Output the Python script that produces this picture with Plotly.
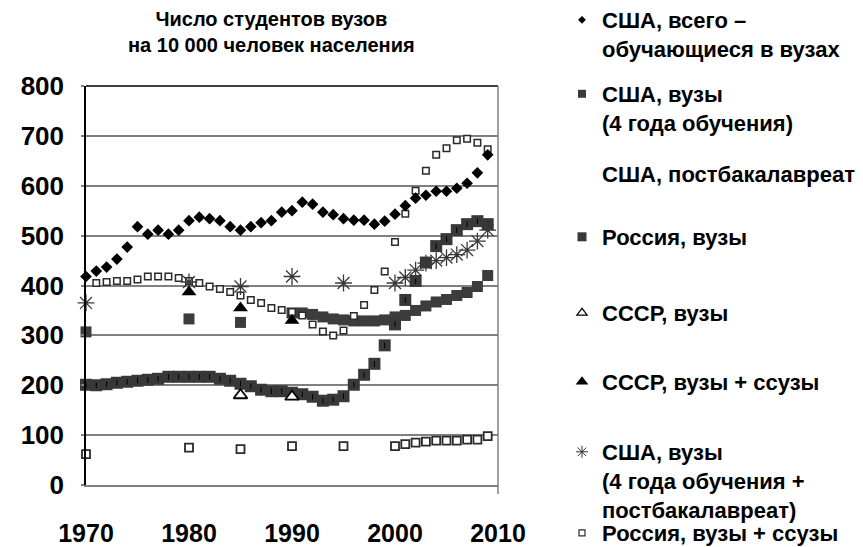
import plotly.graph_objects as go

# ---------------- data ----------------
years_all = list(range(1970, 2010))
usa_total = [418, 429, 437, 453, 477, 518, 503, 511, 503, 511,
             530, 537, 534, 530, 518, 511, 518, 526, 530, 547,
             550, 567, 563, 547, 542, 534, 531, 531, 523, 529,
             543, 560, 575, 581, 589, 589, 595, 605, 626, 662]

usa_4yr_years = [1970, 1980, 1985] + list(range(1990, 2010))
usa_4yr = [307, 333, 326,
           345, 345, 342, 337, 333, 331, 329, 329, 329, 331,
           337, 340, 350, 359, 367, 372, 380, 386, 398, 420]

russia_univ = [201, 200, 202, 205, 207, 209, 211, 213, 217, 217,
               217, 217, 217, 213, 209, 203, 198, 191, 188, 188,
               185, 182, 177, 169, 171, 178, 201, 221, 243, 280,
               322, 371, 409, 446, 479, 493, 511, 523, 529, 523]

russia_all_years = list(range(1971, 2010))
russia_all = [405, 407, 409, 409, 412, 418, 418, 418, 415,
              409, 405, 398, 393, 387, 380, 371, 365, 355, 351,
              347, 340, 322, 308, 300, 310, 339, 361, 391, 428,
              487, 544, 590, 630, 662, 675, 691, 694, 686, 673]

postbac_years = [1970, 1980, 1985, 1990, 1995] + list(range(2000, 2010))
usa_postbac = [62, 75, 72, 78, 78, 78, 82, 85, 87, 89, 89, 89, 91, 91, 98]

ussr_univ_years = [1985, 1990]
ussr_univ = [180, 177]

ussr_all_years = [1980, 1985, 1990]
ussr_all = [387, 355, 330]

usa_4yr_pb_years = [1970, 1980, 1985, 1990, 1995] + list(range(2000, 2010))
usa_4yr_pb = [365, 407, 398, 418, 405, 405, 416, 431, 445, 450, 456, 462, 471, 489, 511]

names = ["США, всего –<br>обучающиеся в вузах",
         "США, вузы<br>(4 года обучения)",
         "США, постбакалавреат",
         "Россия, вузы",
         "СССР, вузы",
         "СССР, вузы + ссузы",
         "США, вузы<br>(4 года обучения +<br>постбакалавреат)",
         "Россия, вузы + ссузы"]
title_text = "Число студентов вузов<br>на 10 000 человек населения"
x_ticks = [1970, 1980, 1990, 2000, 2010]
y_ticks = [0, 100, 200, 300, 400, 500, 600, 700, 800]

# ---------------- geometry (page pixels; the page body has an 8px margin) ----------------
OFF = 8
VW, VH = 863, 547
W, H = VW - OFF, VH - OFF
L, R, T, B = 86, 498, 86, 485          # plot area in page pixels


def px_x(px):
    return (px - L) / (R - L)


def px_y(py):
    return (B - py) / (B - T)


FONT = "Liberation Sans, Arial, sans-serif"
fig = go.Figure()

# ---------------- plotted traces ----------------
fig.add_trace(go.Scatter(x=usa_4yr_years, y=usa_4yr, mode="markers", legendgroup="g2",
                         showlegend=False, cliponaxis=False,
                         marker=dict(symbol="square", size=11, color="#3c3c3c",
                                     line=dict(width=0))))
fig.add_trace(go.Scatter(x=years_all, y=russia_univ, mode="markers", legendgroup="g4",
                         showlegend=False, cliponaxis=False,
                         marker=dict(symbol="square", size=12, color="#383838",
                                     line=dict(width=0))))
fig.add_trace(go.Scatter(x=years_all, y=russia_univ, mode="markers", legendgroup="g4",
                         showlegend=False, cliponaxis=False, hoverinfo="skip",
                         marker=dict(symbol="line-ns", size=4, color="#000000",
                                     line=dict(width=1, color="#000000"))))
fig.add_trace(go.Scatter(x=russia_all_years, y=russia_all, mode="markers", legendgroup="g8",
                         showlegend=False, cliponaxis=False,
                         marker=dict(symbol="square", size=6.5, color="white",
                                     line=dict(width=1.5, color="#2a2a2a"))))
fig.add_trace(go.Scatter(x=postbac_years, y=usa_postbac, mode="markers", legendgroup="g3",
                         showlegend=False, cliponaxis=False,
                         marker=dict(symbol="square", size=8, color="white",
                                     line=dict(width=1.8, color="#2a2a2a"))))
fig.add_trace(go.Scatter(x=usa_4yr_pb_years, y=usa_4yr_pb, mode="markers", legendgroup="g7",
                         showlegend=False, cliponaxis=False,
                         marker=dict(symbol="asterisk-open", size=14, color="#383838",
                                     line=dict(width=1.3, color="#383838"))))
fig.add_trace(go.Scatter(x=ussr_univ_years, y=ussr_univ, mode="markers", legendgroup="g5",
                         showlegend=False, cliponaxis=False,
                         marker=dict(symbol="triangle-up", size=12, color="white",
                                     line=dict(width=1.8, color="#000000"))))
fig.add_trace(go.Scatter(x=ussr_all_years, y=ussr_all, mode="markers", legendgroup="g6",
                         showlegend=False, cliponaxis=False,
                         marker=dict(symbol="triangle-up", size=13, color="#000000",
                                     line=dict(width=0))))
fig.add_trace(go.Scatter(x=years_all, y=usa_total, mode="markers", legendgroup="g1",
                         showlegend=False, cliponaxis=False,
                         marker=dict(symbol="diamond", size=9, color="#000000",
                                     line=dict(width=0))))

# ---------------- legend entries (one legend each, positioned like the original) ----
legend_markers = [
    dict(symbol="diamond", size=6, color="#000000", line=dict(width=0)),
    dict(symbol="square", size=8, color="#3c3c3c", line=dict(width=0)),
    dict(symbol="square", size=6, color="rgba(0,0,0,0)", line=dict(width=0)),
    dict(symbol="square", size=9, color="#383838", line=dict(width=0)),
    dict(symbol="triangle-up", size=9, color="white", line=dict(width=1.2, color="#000000")),
    dict(symbol="triangle-up", size=11, color="#000000", line=dict(width=0)),
    dict(symbol="asterisk-open", size=10, color="#333333", line=dict(width=1, color="#333333")),
    dict(symbol="square", size=6, color="white", line=dict(width=1.2, color="#2a2a2a")),
]
first_line_y = [20, 94, 174, 237, 313, 382, 452, 533]
legend_left_px = 562

layout_legends = {}
for i, (nm, mk, ly) in enumerate(zip(names, legend_markers, first_line_y)):
    key = "legend" if i == 0 else f"legend{i + 1}"
    fig.add_trace(go.Scatter(x=[None], y=[None], mode="markers", name=nm,
                             legendgroup=f"g{i + 1}", legend=key, marker=mk))
    layout_legends[key] = dict(
        x=px_x(legend_left_px), y=px_y(ly - 21), xanchor="left", yanchor="top",
        valign="top", bgcolor="rgba(0,0,0,0)", borderwidth=0,
        font=dict(family=FONT, size=22, color="#000000", weight="bold"),
        itemclick=False, itemdoubleclick=False,
    )

# ---------------- frame lines ----------------
fig.add_shape(type="line", xref="paper", yref="paper", x0=0, x1=1, y0=1, y1=1,
              line=dict(color="#000000", width=1.5), layer="above")
fig.add_shape(type="line", xref="paper", yref="paper", x0=1, x1=1, y0=px_y(494), y1=1,
              line=dict(color="#808080", width=1.5), layer="above")

# ---------------- title ----------------
fig.add_annotation(text=title_text, xref="paper", yref="paper",
                   x=px_x(271), y=px_y(6), xanchor="center", yanchor="top",
                   showarrow=False, align="center",
                   font=dict(family=FONT, size=20, weight="bold", color="#000000"))

fig.update_layout(
    width=W, height=H,
    margin=dict(l=L - OFF, r=W - (R - OFF), t=T - OFF, b=H - (B - OFF), pad=0,
                autoexpand=False),
    paper_bgcolor="white", plot_bgcolor="white",
    font=dict(family=FONT, color="#000000"),
    xaxis=dict(range=[1970, 2010], tickvals=x_ticks, ticktext=[str(v) for v in x_ticks],
               showgrid=False, zeroline=False, showline=True, linecolor="#808080",
               linewidth=1.5, ticks="", ticklabelstandoff=25,
               tickfont=dict(family=FONT, size=25, weight="bold", color="#000000")),
    yaxis=dict(range=[0, 800], tickvals=y_ticks, ticktext=[str(v) for v in y_ticks],
               showgrid=True, gridcolor="#808080", gridwidth=1.5, zeroline=False,
               showline=True, linecolor="#000000", linewidth=1.5,
               ticks="outside", ticklen=3, tickcolor="#808080", tickwidth=1.5,
               ticklabelstandoff=12,
               tickfont=dict(family=FONT, size=26, weight="bold", color="#000000")),
    **layout_legends,
)

fig.write_html("out.html")
